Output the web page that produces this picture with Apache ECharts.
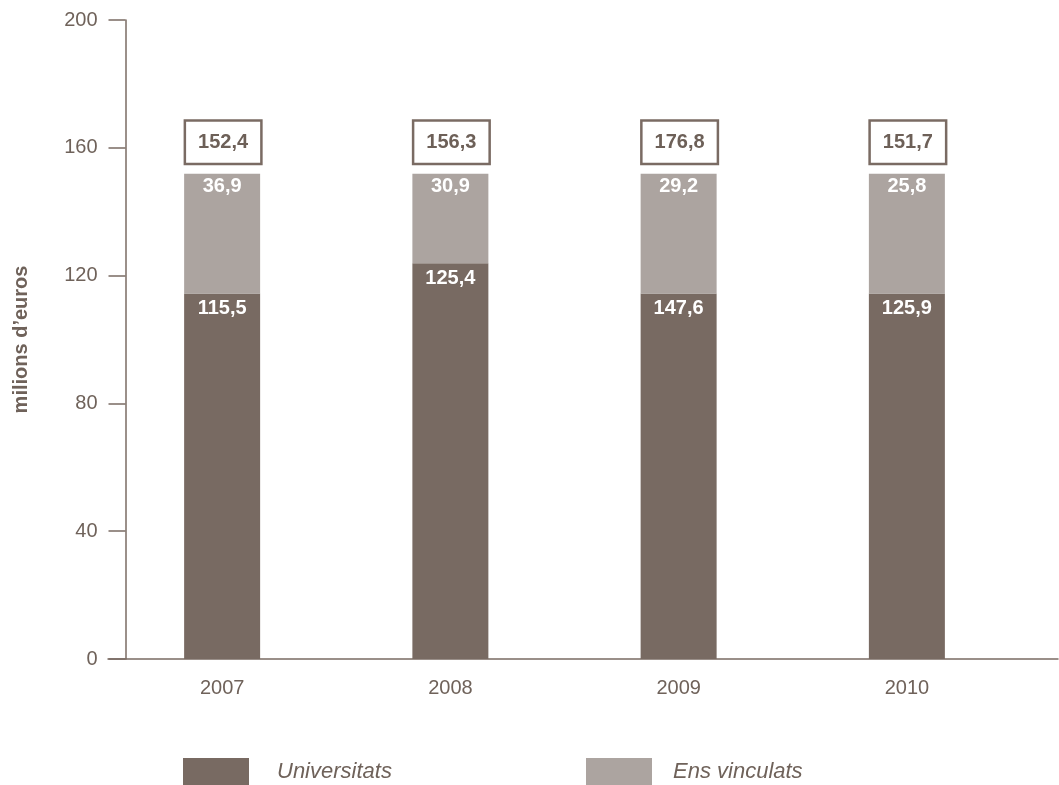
<!DOCTYPE html>
<html>
<head>
<meta charset="utf-8">
<script src="https://cdn.jsdelivr.net/npm/echarts@6/dist/echarts.min.js"></script>
<style>
  html, body { margin: 0; padding: 0; background: #ffffff; }
  #chart { width: 1059px; height: 785px; }
</style>
</head>
<body>
<div id="chart"></div>
<script>
// Categories and values
const categories = ['2007', '2008', '2009', '2010'];
// bar segment heights as drawn in the picture (millions of euros)
const universitats = [114.4, 123.9, 114.4, 114.4];
const ensVinculats = [37.5, 28.0, 37.5, 37.5];
// printed labels
const universitatsLabels = ['115,5', '125,4', '147,6', '125,9'];
const ensVinculatsLabels = ['36,9', '30,9', '29,2', '25,8'];
const totalLabels = ['152,4', '156,3', '176,8', '151,7'];
const yTicks = { min: 0, max: 200, interval: 40 };

const FONT = '"Liberation Sans", Arial, Helvetica, sans-serif';
const DARK = '#786a62';
const LIGHT = '#aca4a0';
const AXIS = '#7a6b63';
const TEXT = '#6f625a';

// bar tops (stack totals) for the total boxes
const stackTops = universitats.map((v, i) => +(v + ensVinculats[i]).toFixed(1));

const chart = echarts.init(document.getElementById('chart'), null, { renderer: 'canvas' });

const option = {
  backgroundColor: '#ffffff',
  animation: false,
  textStyle: { fontFamily: FONT },
  grid: [
    { left: 108, right: 38, top: 20, bottom: 126 },
    { left: 108, right: 1, top: 20, bottom: 126 },
    { left: 125.5, right: 1, top: 20, bottom: 126 }
  ],
  legend: [
    {
      data: ['Universitats'],
      left: 183, top: 758, padding: 0,
      itemWidth: 66, itemHeight: 27, icon: 'rect',
      textStyle: { fontSize: 22, fontStyle: 'italic', color: TEXT, fontFamily: FONT, padding: [0, 0, 0, 23] },
      selectedMode: false
    },
    {
      data: ['Ens vinculats'],
      left: 586, top: 758, padding: 0,
      itemWidth: 66, itemHeight: 27, icon: 'rect',
      textStyle: { fontSize: 22, fontStyle: 'italic', color: TEXT, fontFamily: FONT, padding: [0, 0, 0, 16] },
      selectedMode: false
    }
  ],
  xAxis: [
    {
      gridIndex: 0, type: 'category', data: categories,
      axisLine: { show: false }, axisTick: { show: false },
      axisLabel: { fontSize: 20, color: TEXT, margin: 19, fontFamily: FONT },
      splitLine: { show: false }
    },
    {
      gridIndex: 1, type: 'value', min: 0, max: 1,
      axisLine: { show: true, lineStyle: { color: AXIS, width: 1.5 } },
      axisTick: { show: false }, axisLabel: { show: false }, splitLine: { show: false }
    },
    { gridIndex: 2, type: 'value', min: 0, max: 1, show: false }
  ],
  yAxis: [
    { gridIndex: 0, type: 'value', min: yTicks.min, max: yTicks.max, show: false },
    { gridIndex: 1, type: 'value', min: yTicks.min, max: yTicks.max, show: false },
    {
      gridIndex: 2, type: 'value', min: yTicks.min, max: yTicks.max, interval: yTicks.interval,
      name: 'milions d\u2019euros', nameLocation: 'middle', nameGap: 94, nameRotate: 90,
      nameTextStyle: { fontSize: 20, fontWeight: 'bold', color: TEXT, fontFamily: FONT },
      axisLine: { show: true, lineStyle: { color: AXIS, width: 1.5 } },
      axisTick: { show: true, length: 17, inside: false, lineStyle: { color: AXIS, width: 1.5 } },
      axisLabel: { fontSize: 20, color: TEXT, margin: 28, fontFamily: FONT },
      splitLine: { show: false }
    }
  ],
  series: [
    {
      name: 'Universitats', type: 'bar', stack: 'total', xAxisIndex: 0, yAxisIndex: 0,
      barWidth: 76, data: universitats,
      itemStyle: { color: DARK },
      label: {
        show: true, position: 'insideTop', distance: 5,
        fontSize: 20, fontWeight: 'bold', color: '#ffffff', fontFamily: FONT,
        formatter: p => universitatsLabels[p.dataIndex]
      },
      silent: true
    },
    {
      name: 'Ens vinculats', type: 'bar', stack: 'total', xAxisIndex: 0, yAxisIndex: 0,
      barWidth: 76, data: ensVinculats,
      itemStyle: { color: LIGHT },
      label: {
        show: true, position: 'insideTop', distance: 3,
        fontSize: 20, fontWeight: 'bold', color: '#ffffff', fontFamily: FONT,
        formatter: p => ensVinculatsLabels[p.dataIndex]
      },
      silent: true
    },
    {
      name: 'Total', type: 'bar', xAxisIndex: 0, yAxisIndex: 0,
      barWidth: 76, barGap: '-100%', data: stackTops,
      itemStyle: { color: 'rgba(0,0,0,0)' },
      z: 5,
      label: {
        show: true, position: 'top', distance: 11, offset: [1, 0],
        fontSize: 20, fontWeight: 'bold', color: '#6d6058', fontFamily: FONT,
        backgroundColor: '#ffffff', borderColor: AXIS, borderWidth: 2.5,
        padding: [11, 12, 10, 12],
        formatter: p => totalLabels[p.dataIndex]
      },
      silent: true
    }
  ]
};

chart.setOption(option);
</script>
</body>
</html>
